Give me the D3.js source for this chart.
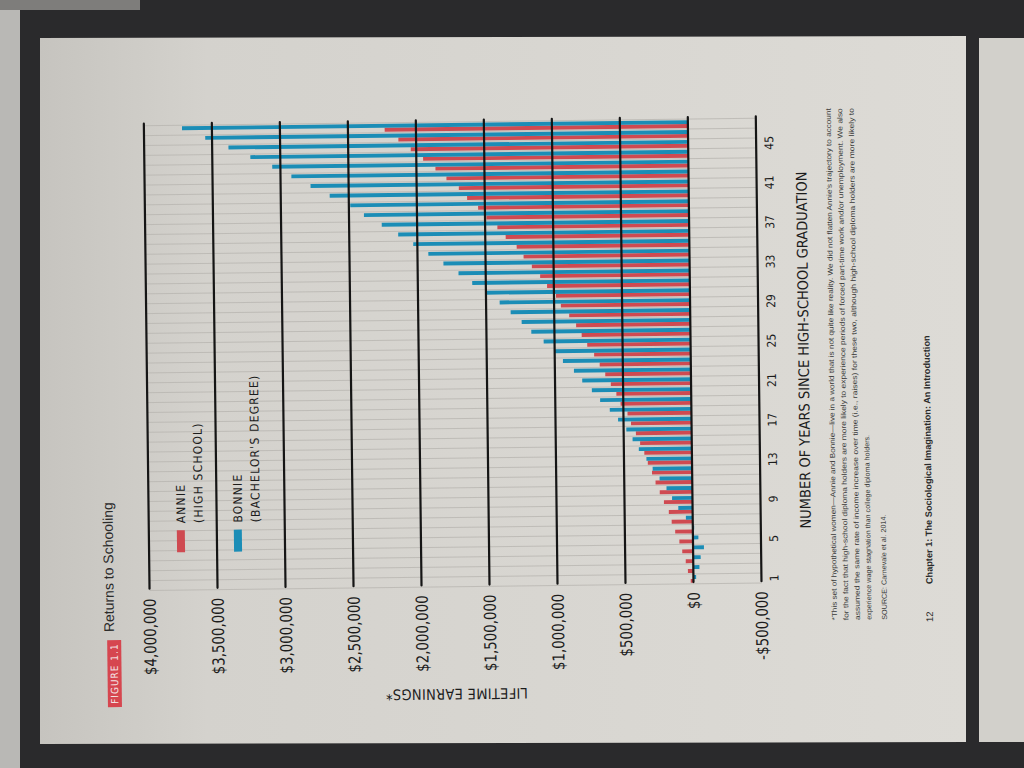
<!DOCTYPE html>
<html>
<head>
    <script src="https://d3js.org/d3.v7.min.js"></script>
    <style>
        body { margin: 0; background: #2a2a2c; }
        svg { display: block; }
        .hand { font-family: "DejaVu Sans Condensed", "DejaVu Sans", sans-serif; font-stretch: condensed; fill: #1c1c1c; }
        .print { font-family: "Liberation Sans", Arial, sans-serif; fill: #2b2b2b; }
    </style>
</head>
<body>
    <svg width="1024" height="768"></svg>

    <script>
        // years since high-school graduation
        const years = [1, 2, 3, 4, 5, 6, 7, 8, 9, 10, 11, 12, 13, 14, 15, 16, 17, 18, 19, 20,
            21, 22, 23, 24, 25, 26, 27, 28, 29, 30, 31, 32, 33, 34, 35, 36, 37, 38, 39, 40,
            41, 42, 43, 44, 45, 46, 47];

        // cumulative lifetime earnings
        const annie = [20000, 40000, 55000, 80000, 100000, 130000, 155000, 175000, 210000, 240000,
            270000, 295000, 325000, 350000, 380000, 410000, 445000, 470000, 520000, 550000,
            590000, 630000, 670000, 710000, 760000, 800000, 840000, 890000, 950000, 985000,
            1050000, 1100000, 1160000, 1220000, 1270000, 1350000, 1410000, 1490000, 1550000, 1630000,
            1690000, 1780000, 1860000, 1950000, 2040000, 2130000, 2230000];
        const bonnie = [-20000, -45000, -55000, -80000, -40000, -10000, 50000, 105000, 150000, 190000,
            240000, 290000, 335000, 390000, 435000, 480000, 540000, 600000, 670000, 730000,
            800000, 860000, 940000, 1000000, 1080000, 1170000, 1240000, 1320000, 1400000, 1500000,
            1600000, 1700000, 1810000, 1920000, 2030000, 2140000, 2260000, 2390000, 2490000, 2640000,
            2780000, 2920000, 3060000, 3220000, 3380000, 3550000, 3720000];

        const yearTicks = [1, 5, 9, 13, 17, 21, 25, 29, 33, 37, 41, 45];
        const valueTicks = [-500000, 0, 500000, 1000000, 1500000, 2000000, 2500000, 3000000, 3500000, 4000000];
        const seriesKeys = ["annie", "bonnie"];
        const seriesNames = ["ANNIE", "BONNIE"];
        const seriesNotes = ["(HIGH SCHOOL)", "(BACHELOR'S DEGREE)"];

        const footnote = [
            "*This set of hypothetical women\u2014Annie and Bonnie\u2014live in a world that is not quite like reality. We did not flatten Annie's trajectory to account",
            "for the fact that high-school diploma holders are more likely to experience periods of forced part-time work and/or unemployment. We also",
            "assumed the same rate of income increase over time (i.e., raises) for these two, although high-school diploma holders are more likely to",
            "experience wage stagnation than college diploma holders."
        ];

        const svg = d3.select("svg");

        // ---- the photo: dark desk, page, edge of the next page
        const defs = svg.append("defs");
        const grad = defs.append("linearGradient").attr("id", "paper");
        grad.append("stop").attr("offset", "0%").attr("stop-color", "#c6c4bf");
        grad.append("stop").attr("offset", "18%").attr("stop-color", "#d4d2cd");
        grad.append("stop").attr("offset", "100%").attr("stop-color", "#dddbd6");

        svg.append("rect").attr("width", 1024).attr("height", 768).attr("fill", "#2a2a2c");
        svg.append("rect").attr("x", 0).attr("y", 0).attr("width", 20).attr("height", 768).attr("fill", "#b9b8b5");
        svg.append("rect").attr("x", 0).attr("y", 0).attr("width", 140).attr("height", 10).attr("fill", "#7e7d7b");
        svg.append("polygon")
            .attr("points", "40,38 966,36 966,742 40,744")
            .attr("fill", "url(#paper)");
        svg.append("rect").attr("x", 979).attr("y", 38).attr("width", 45).attr("height", 704).attr("fill", "#d2d0cb");

        // ---- chart, drawn on the upright page then turned like the photo
        const page = svg.append("g")
            .attr("transform", "rotate(-0.7 450 380) translate(0,768) rotate(-90)");

        const x = d3.scaleBand().domain(years).range([181.2, 646.0]);
        const x1 = d3.scaleBand().domain(seriesKeys).range([1.0, 8.8]);
        const y = d3.scaleLinear().domain([-500000, 4000000]).range([759, 147]);
        const color = d3.scaleOrdinal().domain(seriesKeys).range(["#cf4a51", "#1b8db6"]);

        // thin year rules
        const bounds = years.map(d => x(d)).concat([x(years[years.length - 1]) + x.bandwidth()]);
        page.append("g").selectAll("line")
            .data(bounds)
            .enter().append("line")
            .attr("x1", d => d).attr("x2", d => d)
            .attr("y1", y(4000000)).attr("y2", y(-500000))
            .attr("stroke", "#b8b6b1")
            .attr("stroke-width", 0.8);

        // bars
        const rows = years.map((yr, i) => ({ year: yr, annie: annie[i], bonnie: bonnie[i] }));
        page.append("g").selectAll("g")
            .data(rows)
            .enter().append("g")
            .attr("transform", d => `translate(${x(d.year)},0)`)
            .selectAll("rect")
            .data(d => seriesKeys.map(k => ({ key: k, value: d[k] })))
            .enter().append("rect")
            .attr("x", d => x1(d.key))
            .attr("width", x1.bandwidth())
            .attr("y", d => y(Math.max(0, d.value)))
            .attr("height", d => Math.abs(y(d.value) - y(0)))
            .attr("fill", d => color(d.key));

        // heavy value rules
        page.append("g").selectAll("line")
            .data(valueTicks)
            .enter().append("line")
            .attr("x1", 183).attr("x2", 648)
            .attr("y1", d => y(d)).attr("y2", d => y(d))
            .attr("stroke", "#151515")
            .attr("stroke-width", 2.2)
            .attr("stroke-linecap", "round");

        // value labels
        const money = d => (d < 0 ? "-$" : "$") + d3.format(",")(Math.abs(d));
        page.append("g").selectAll("text")
            .data(valueTicks)
            .enter().append("text")
            .attr("class", "hand")
            .attr("transform", d => `translate(173,${y(d)}) scale(0.9,1)`)
            .attr("dy", "0.36em")
            .attr("text-anchor", "end")
            .attr("font-size", "16.5px")
            .text(d => d === 0 ? "$0" : money(d));

        // year labels
        page.append("g").selectAll("text")
            .data(yearTicks)
            .enter().append("text")
            .attr("class", "hand")
            .attr("x", d => x(d) + x.bandwidth() / 2)
            .attr("y", 776)
            .attr("text-anchor", "middle")
            .attr("font-size", "12px")
            .text(d => d);

        // axis titles
        page.append("text")
            .attr("class", "hand")
            .attr("x", (x.range()[0] + x.range()[1]) / 2)
            .attr("y", 809)
            .attr("text-anchor", "middle")
            .attr("font-size", "14.5px")
            .text("NUMBER OF YEARS SINCE HIGH-SCHOOL GRADUATION");

        page.append("text")
            .attr("class", "hand")
            .attr("transform", `translate(79,${(y(-500000) + y(4000000)) / 2}) rotate(-90)`)
            .attr("text-anchor", "middle")
            .attr("font-size", "14.5px")
            .attr("letter-spacing", "0.3px")
            .text("LIFETIME EARNINGS*");

        // legend
        const legend = page.append("g").selectAll("g")
            .data(seriesKeys)
            .enter().append("g")
            .attr("transform", (d, i) => `translate(219,${175 + i * 57})`);
        legend.append("rect")
            .attr("width", 22).attr("height", 8)
            .attr("fill", d => color(d));
        legend.append("text")
            .attr("class", "hand")
            .attr("x", 29).attr("y", 8.5)
            .attr("font-size", "12px")
            .attr("letter-spacing", "1.2px")
            .text((d, i) => seriesNames[i]);
        legend.append("text")
            .attr("class", "hand")
            .attr("x", 29).attr("y", 26)
            .attr("font-size", "12px")
            .attr("letter-spacing", "1.2px")
            .text((d, i) => seriesNotes[i]);

        // figure heading
        page.append("rect")
            .attr("x", 65).attr("y", 104)
            .attr("width", 67).attr("height", 14)
            .attr("fill", "#d6464f");
        page.append("text")
            .attr("class", "hand")
            .attr("x", 98.5).attr("y", 114.5)
            .attr("text-anchor", "middle")
            .attr("font-size", "10px")
            .attr("letter-spacing", "1px")
            .style("fill", "#f4e4e4")
            .text("FIGURE 1.1");
        page.append("text")
            .attr("class", "print")
            .attr("x", 140).attr("y", 111)
            .attr("font-size", "14px")
            .text("Returns to Schooling");

        // footnote and running foot
        page.append("g").selectAll("text")
            .data(footnote)
            .enter().append("text")
            .attr("class", "print")
            .attr("x", 143)
            .attr("y", (d, i) => 834 + i * 11.5)
            .attr("font-size", "7.2px")
            .attr("textLength", (d, i) => i < 3 ? 512 : null)
            .attr("lengthAdjust", "spacingAndGlyphs")
            .style("fill", "#3a3a3a")
            .text(d => d);
        page.append("text")
            .attr("class", "print")
            .attr("x", 143).attr("y", 884)
            .attr("font-size", "7.2px")
            .style("fill", "#3a3a3a")
            .text("SOURCE: Carnevale et al. 2014.");
        page.append("text")
            .attr("class", "print")
            .attr("x", 140).attr("y", 930)
            .attr("font-size", "9.5px")
            .text("12");
        page.append("text")
            .attr("class", "print")
            .attr("x", 178).attr("y", 930)
            .attr("font-size", "9.2px")
            .attr("font-weight", "bold")
            .text("Chapter 1: The Sociological Imagination: An Introduction");
    </script>
</body>
</html>
